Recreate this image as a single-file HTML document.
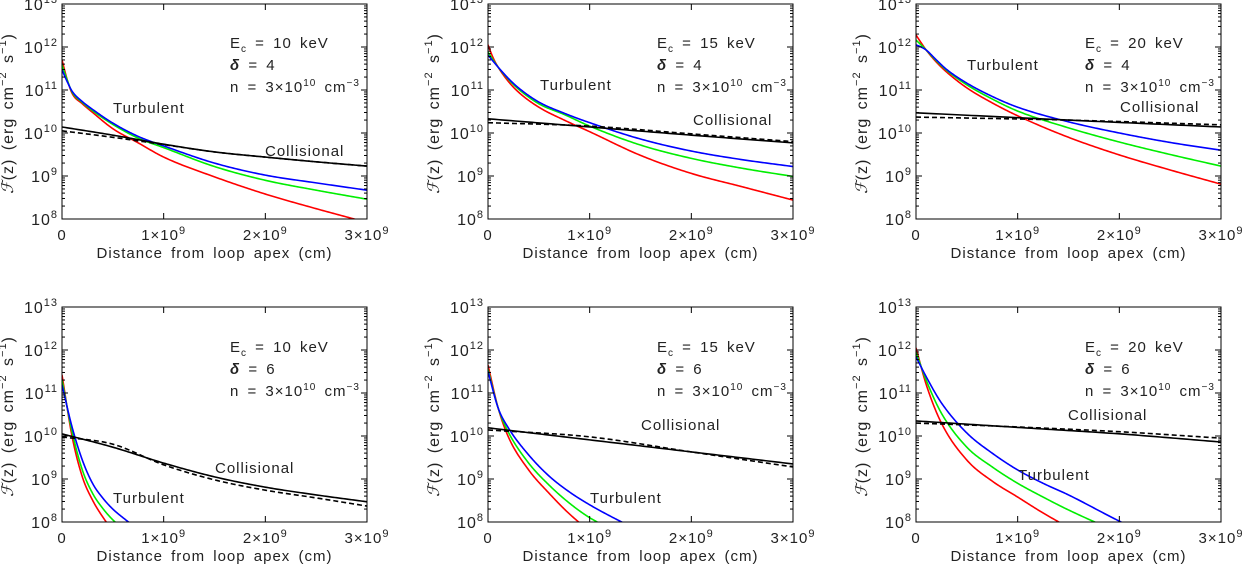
<!DOCTYPE html>
<html><head><meta charset="utf-8"><style>
body{margin:0;background:#fff;}
svg{display:block;font-family:"Liberation Sans","DejaVu Sans",sans-serif;}
svg text{letter-spacing:1px;word-spacing:3px;}
</style></head><body>
<svg id="fig" width="1243" height="567" viewBox="0 0 1243 567" xmlns="http://www.w3.org/2000/svg"></svg>
<script>
// x positions (units of 1e9 cm) and log10 flux values per panel
const p1_x=[0,0.05,0.1,0.2,0.3,0.5,0.75,1.0,1.5,2.0,2.5,3.0];
const p1_red=[11.7,11.25,10.92,10.68,10.48,10.1,9.77,9.44,8.98,8.58,8.24,7.92];
const p1_green=[11.58,11.24,10.95,10.71,10.52,10.2,9.88,9.66,9.22,8.9,8.67,8.46];
const p1_blue=[11.47,11.2,10.97,10.73,10.55,10.23,9.92,9.7,9.3,9.02,8.84,8.67];
const p1_cx=[0,0.5,1.0,1.5,2.0,2.5,3.0];
const p1_coll=[10.14,9.95,9.74,9.56,9.44,9.33,9.23];
const p1_dash=[10.05,9.9,9.73,9.56,9.44,9.33,9.23];

const p2_x=[0,0.05,0.1,0.2,0.3,0.5,0.75,1.0,1.5,2.0,2.5,3.0];
const p2_red=[12.05,11.75,11.53,11.2,10.95,10.6,10.3,10.03,9.48,9.06,8.75,8.44];
const p2_green=[11.88,11.7,11.53,11.25,11.02,10.68,10.43,10.16,9.72,9.41,9.18,8.99];
const p2_blue=[11.81,11.67,11.53,11.27,11.05,10.72,10.46,10.24,9.86,9.58,9.38,9.22];
const p2_cx=[0,1.0,2.0,3.0];
const p2_coll=[10.33,10.14,9.95,9.77];
const p2_dash=[10.24,10.16,9.98,9.8];

const p3_x=[0,0.05,0.1,0.2,0.3,0.5,0.75,1.0,1.5,2.0,2.5,3.0];
const p3_red=[12.28,12.1,11.93,11.65,11.42,11.05,10.7,10.4,9.9,9.49,9.14,8.81];
const p3_green=[12.16,12.05,11.93,11.68,11.46,11.12,10.79,10.51,10.12,9.79,9.5,9.23];
const p3_blue=[12.05,12.0,11.93,11.7,11.48,11.16,10.85,10.6,10.26,10.0,9.78,9.6];
const p3_cx=[0,1.5,3.0];
const p3_coll=[10.47,10.3,10.14];
const p3_dash=[10.37,10.3,10.19];

const p4_x=[0,0.1,0.2,0.3,0.4,0.5,0.6,0.7];
const p4_red=[11.42,9.98,9.05,8.51,8.12,7.8,7.5,7.2];
const p4_green=[11.3,10.09,9.21,8.67,8.32,8.05,7.85,7.65];
const p4_blue=[11.19,10.2,9.44,8.9,8.56,8.3,8.1,7.92];
const p4_cx=[0,0.5,1.0,1.5,2.0,2.5,3.0];
const p4_coll=[10.05,9.74,9.37,9.05,8.81,8.63,8.47];
const p4_dash=[9.98,9.81,9.33,8.98,8.74,8.56,8.37];

const p5_x=[0,0.1,0.2,0.4,0.6,0.8,1.0,1.2,1.4];
const p5_red=[11.65,10.65,9.98,9.21,8.67,8.19,7.8,7.5,7.2];
const p5_green=[11.55,10.65,10.09,9.37,8.86,8.44,8.1,7.85,7.6];
const p5_blue=[11.5,10.65,10.19,9.56,9.07,8.7,8.4,8.14,7.9];
const p5_cx=[0,1.0,2.0,3.0];
const p5_coll=[10.19,9.91,9.63,9.35];
const p5_dash=[10.14,9.98,9.63,9.28];

const p6_x=[0,0.1,0.25,0.5,0.75,1.0,1.25,1.5,2.0,2.2];
const p6_red=[12.05,11.2,10.3,9.44,8.95,8.58,8.21,7.88,7.3,7.1];
const p6_green=[11.95,11.3,10.53,9.74,9.28,8.9,8.58,8.28,7.75,7.55];
const p6_blue=[11.84,11.38,10.77,10.07,9.6,9.21,8.9,8.63,8.02,7.8];
const p6_cx=[0,1.0,2.0,3.0];
const p6_coll=[10.35,10.2,10.05,9.86];
const p6_dash=[10.3,10.21,10.1,9.95];

const params=[["10","4"],["15","4"],["20","4"],["10","6"],["15","6"],["20","6"]];

const NS="http://www.w3.org/2000/svg";
const svg=document.getElementById('fig');
function mk(tag,attrs,parent){const e=document.createElementNS(NS,tag);for(const k in attrs)e.setAttribute(k,attrs[k]);(parent||svg).appendChild(e);return e;}

const panels=[
 {L:62,T:4,x:p1_x,r:p1_red,g:p1_green,b:p1_blue,cx:p1_cx,c:p1_coll,d:p1_dash,turb:[113,113],coll:[265,156],ec:[230,48]},
 {L:488,T:4,x:p2_x,r:p2_red,g:p2_green,b:p2_blue,cx:p2_cx,c:p2_coll,d:p2_dash,turb:[540,90],coll:[693,125],ec:[657,48]},
 {L:916,T:4,x:p3_x,r:p3_red,g:p3_green,b:p3_blue,cx:p3_cx,c:p3_coll,d:p3_dash,turb:[967,70],coll:[1120,112],ec:[1085,48]},
 {L:62,T:307,x:p4_x,r:p4_red,g:p4_green,b:p4_blue,cx:p4_cx,c:p4_coll,d:p4_dash,turb:[113,503],coll:[215,473],ec:[230,352]},
 {L:488,T:307,x:p5_x,r:p5_red,g:p5_green,b:p5_blue,cx:p5_cx,c:p5_coll,d:p5_dash,turb:[590,503],coll:[641,430],ec:[657,352]},
 {L:916,T:307,x:p6_x,r:p6_red,g:p6_green,b:p6_blue,cx:p6_cx,c:p6_coll,d:p6_dash,turb:[1018,480],coll:[1068,420],ec:[1085,352]}
];
const W=305,H=215;

function monoPath(xs,ys,X,Y){
  const n=xs.length,dk=[],m=new Array(n);
  for(let i=0;i<n-1;i++)dk.push((ys[i+1]-ys[i])/(xs[i+1]-xs[i]));
  m[0]=dk[0];m[n-1]=dk[n-2];
  for(let i=1;i<n-1;i++){m[i]=(dk[i-1]*dk[i]<=0)?0:(dk[i-1]+dk[i])/2;}
  for(let i=0;i<n-1;i++){
    if(dk[i]===0){m[i]=0;m[i+1]=0;continue;}
    const a=m[i]/dk[i],b=m[i+1]/dk[i],s=a*a+b*b;
    if(s>9){const t=3/Math.sqrt(s);m[i]=t*a*dk[i];m[i+1]=t*b*dk[i];}
  }
  let d='';
  for(let i=0;i<n-1;i++){
    const h=xs[i+1]-xs[i];
    for(let k=0;k<=30;k++){
      if(i>0&&k===0)continue;
      const t=k/30,t2=t*t,t3=t2*t;
      const v=(2*t3-3*t2+1)*ys[i]+(t3-2*t2+t)*h*m[i]+(-2*t3+3*t2)*ys[i+1]+(t3-t2)*h*m[i+1];
      const xv=xs[i]+t*h;
      d+=(d?' L':'M')+X(xv).toFixed(2)+','+Y(v).toFixed(2);
    }
  }
  return d;
}

panels.forEach((p,i)=>{
  const g=mk('g',{});
  
  
  const X=v=>p.L+v/3*W, Y=v=>p.T+(13-v)/5*H;
  const cp=mk('clipPath',{id:'cp'+i},g);
  mk('rect',{x:p.L,y:p.T,width:W,height:H},cp);
  const series=[[p.x,p.r,'#ff0000','red-curve'],[p.x,p.g,'#00ee00','green-curve'],[p.x,p.b,'#0000ff','blue-curve'],[p.cx,p.d,'#000','collisional-dashed'],[p.cx,p.c,'#000','collisional-solid']];
  series.forEach(s=>{
    const el=mk('path',{d:monoPath(s[0],s[1],X,Y),fill:'none',stroke:s[2],'stroke-width':1.6,'clip-path':`url(#cp${i})`},g);
    if(s[3]==='collisional-dashed')el.setAttribute('stroke-dasharray','5,3');
    
    
  });
  const fr=mk('rect',{x:p.L,y:p.T,width:W,height:H,fill:'none',stroke:'#000','stroke-width':1},g);
  
  
  for(let e=8;e<=13;e++){
    const y=Y(e);
    mk('line',{x1:p.L,x2:p.L+6,y1:y,y2:y,stroke:'#000'},g);
    mk('line',{x1:p.L+W,x2:p.L+W-6,y1:y,y2:y,stroke:'#000'},g);
    const t=mk('text',{x:p.L-4,y:y+6,'text-anchor':'end','font-size':16,fill:'#222'},g);
    
    
    t.innerHTML=`10<tspan dy="-7" font-size="11">${e}</tspan>`;
    if(e<13)for(let m=2;m<=9;m++){const ym=Y(e+Math.log10(m));
      mk('line',{x1:p.L,x2:p.L+3,y1:ym,y2:ym,stroke:'#000'},g);
      mk('line',{x1:p.L+W,x2:p.L+W-3,y1:ym,y2:ym,stroke:'#000'},g);}
  }
  const xl=['0','1×10','2×10','3×10'];
  for(let k=0;k<=3;k++){
    const x=X(k);
    mk('line',{x1:x,x2:x,y1:p.T+H,y2:p.T+H-6,stroke:'#000'},g);
    mk('line',{x1:x,x2:x,y1:p.T,y2:p.T+6,stroke:'#000'},g);
    const t=mk('text',{x:x,y:p.T+H+21,'text-anchor':'middle','font-size':15,fill:'#222'},g);
    
    
    t.innerHTML=k?`${xl[k]}<tspan dy="-6" font-size="11">9</tspan>`:'0';
  }
  const xt=mk('text',{x:p.L+W/2,y:p.T+H+39,'text-anchor':'middle','font-size':15,fill:'#222'},g);
  
  
  xt.textContent='Distance from loop apex (cm)';
  const cy=p.T+H/2+2, cxp=p.L-49;
  const yt=mk('text',{x:cxp,y:cy,'text-anchor':'middle','font-size':16,fill:'#222',transform:`rotate(-90 ${cxp} ${cy})`},g);
  
  
  yt.innerHTML='<tspan font-style="italic" font-family="Liberation Serif">ℱ</tspan>(z) (erg cm<tspan dy="-7" font-size="11">−2</tspan><tspan dy="7"> s</tspan><tspan dy="-7" font-size="11">−1</tspan><tspan dy="7">)</tspan>';
  const pr=params[i];
  const a1=mk('text',{x:p.ec[0],y:p.ec[1],'font-size':15,fill:'#222'},g);
  
  
  a1.innerHTML=`E<tspan dy="4" font-size="10">c</tspan><tspan dy="-4"> = ${pr[0]} keV</tspan>`;
  const a2=mk('text',{x:p.ec[0],y:p.ec[1]+22,'font-size':15,fill:'#222'},g);
  
  
  a2.innerHTML=`<tspan font-style="italic" font-weight="bold">δ</tspan> = ${pr[1]}`;
  const a3=mk('text',{x:p.ec[0],y:p.ec[1]+44,'font-size':15,fill:'#222'},g);
  
  
  a3.innerHTML=`n = 3×10<tspan dy="-6" font-size="10">10</tspan><tspan dy="6"> cm</tspan><tspan dy="-6" font-size="10">−3</tspan>`;
  const tl=mk('text',{x:p.turb[0],y:p.turb[1],'font-size':15,fill:'#222'},g);
  
  
  tl.textContent='Turbulent';
  const cl=mk('text',{x:p.coll[0],y:p.coll[1],'font-size':15,fill:'#222'},g);
  
  
  cl.textContent='Collisional';
});
</script>
</body></html>
